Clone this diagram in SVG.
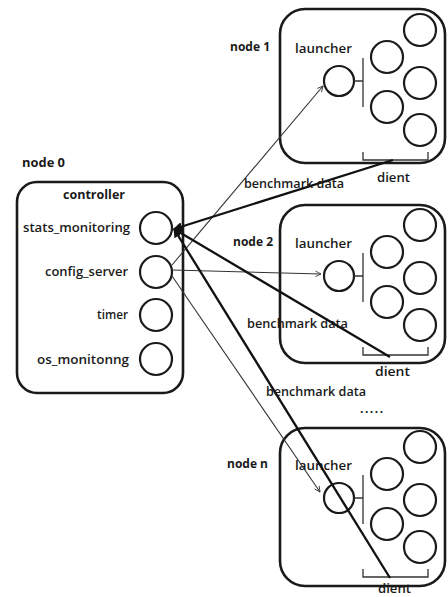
<svg xmlns="http://www.w3.org/2000/svg" width="448" height="597" viewBox="0 0 448 597">
<defs>
<style>
.box{fill:none;stroke:#1a1a1a;stroke-width:2.6}
.c{fill:#fff;stroke:#1a1a1a;stroke-width:2.2}
.br{fill:none;stroke:#333;stroke-width:1.3}
.t{font-family:"Open Sans","Liberation Sans",sans-serif;font-size:12px;font-weight:600;fill:#1a1a1a}
.b{font-weight:bold}
.thin{stroke:#333;stroke-width:1.1;fill:none}
.thick{stroke:#111;stroke-width:2.3;fill:none}
</style>
<marker id="open" viewBox="0 0 10 10" refX="9" refY="5" markerWidth="7" markerHeight="7" orient="auto" markerUnits="userSpaceOnUse">
<path d="M1,1 L9,5 L1,9" fill="none" stroke="#333" stroke-width="1.2"/>
</marker>
<marker id="solid" viewBox="0 0 10 10" refX="1" refY="5" markerWidth="9" markerHeight="9" orient="auto" markerUnits="userSpaceOnUse">
<path d="M0,5 L10,0 L10,10 Z" fill="#111"/>
</marker>
<g id="worker">
<circle class="c" cx="59" cy="72" r="15"/>
<path class="br" d="M74,72 H83 M83,49 V98"/>
<circle class="c" cx="107" cy="48" r="16"/>
<circle class="c" cx="140" cy="21" r="16"/>
<circle class="c" cx="140" cy="74" r="16"/>
<circle class="c" cx="107" cy="98" r="16"/>
<circle class="c" cx="140" cy="121" r="16"/>
<path class="br" d="M83,143 V151 H148 V143"/>
<text class="t" x="15" y="44" textLength="57" lengthAdjust="spacingAndGlyphs">launcher</text>
</g>
</defs>

<g id="node0">
<text class="t b" x="22" y="167" textLength="43" lengthAdjust="spacingAndGlyphs">node 0</text>
<rect class="box" x="17" y="182" width="166" height="211" rx="20"/>
<text class="t b" x="63" y="199" textLength="62" lengthAdjust="spacingAndGlyphs">controller</text>
<text class="t" x="23" y="232" textLength="107" lengthAdjust="spacingAndGlyphs">stats_monitoring</text>
<circle class="c" cx="156" cy="228" r="16"/>
<text class="t" x="45" y="276" textLength="83" lengthAdjust="spacingAndGlyphs">config_server</text>
<circle class="c" cx="156" cy="272" r="16"/>
<text class="t" x="97" y="319" textLength="31" lengthAdjust="spacingAndGlyphs">timer</text>
<circle class="c" cx="156" cy="315" r="16"/>
<text class="t" x="37" y="364" textLength="92" lengthAdjust="spacingAndGlyphs">os_monitonng</text>
<circle class="c" cx="156" cy="359" r="16"/>
</g>

<g id="node1">
<text class="t b" x="230" y="51" textLength="40" lengthAdjust="spacingAndGlyphs">node 1</text>
<rect class="box" x="280" y="9" width="165" height="154" rx="25"/>
<use href="#worker" x="280" y="9"/>
<text class="t" x="377" y="182" textLength="33" lengthAdjust="spacingAndGlyphs">dient</text>
</g>

<g id="node2">
<text class="t b" x="233" y="246" textLength="40" lengthAdjust="spacingAndGlyphs">node 2</text>
<rect class="box" x="280" y="205" width="165" height="158" rx="25"/>
<use href="#worker" x="280" y="204"/>
<text class="t" x="375" y="376" textLength="35" lengthAdjust="spacingAndGlyphs">dient</text>
</g>

<g id="noden">
<text class="t b" x="227" y="468" textLength="41" lengthAdjust="spacingAndGlyphs">node n</text>
<rect class="box" x="280" y="428" width="165" height="158" rx="25"/>
<use href="#worker" x="280" y="426"/>
<text class="t" x="378" y="593" textLength="33" lengthAdjust="spacingAndGlyphs">dient</text>
</g>

<g id="connectors">
<line class="thin" x1="172" y1="265" x2="323" y2="86" marker-end="url(#open)"/>
<line class="thin" x1="172" y1="270" x2="321" y2="274" marker-end="url(#open)"/>
<line class="thin" x1="172" y1="276" x2="320" y2="492" marker-end="url(#open)"/>
<line class="thick" x1="174" y1="229" x2="393" y2="160" marker-start="url(#solid)"/>
<line class="thick" x1="174" y1="229" x2="390" y2="357" marker-start="url(#solid)"/>
<line class="thick" x1="174" y1="229" x2="390" y2="578" marker-start="url(#solid)"/>
<text class="t" x="244" y="188" textLength="100" lengthAdjust="spacingAndGlyphs">benchmark data</text>
<text class="t" x="247" y="328" textLength="101" lengthAdjust="spacingAndGlyphs">benchmark data</text>
<text class="t" x="266" y="396" textLength="100" lengthAdjust="spacingAndGlyphs">benchmark data</text>
<text class="t b" x="360" y="413" letter-spacing="1.5">.....</text>
</g>
</svg>
